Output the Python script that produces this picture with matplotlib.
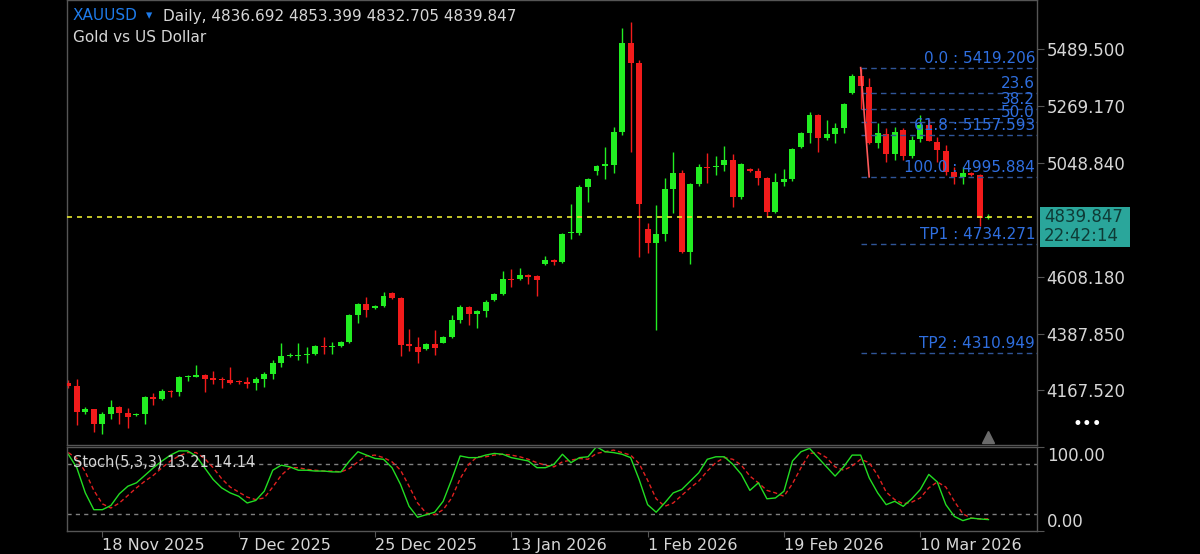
import matplotlib
matplotlib.use("Agg")
import matplotlib.pyplot as plt
import matplotlib.transforms as mtransforms
from matplotlib.patches import Rectangle
import numpy as np

# ---------------- data ----------------
OPEN = [4197, 4185, 4084, 4096, 4038, 4076, 4104, 4080, 4072, 4076,
        4142, 4134, 4165, 4161, 4220, 4220, 4228, 4216, 4212, 4208,
        4204, 4200, 4196, 4212, 4231, 4274, 4301, 4301, 4305, 4309,
        4340, 4336, 4340, 4355, 4460, 4503, 4487, 4495, 4545, 4526,
        4348, 4336, 4328, 4348, 4352, 4375, 4441, 4491, 4464, 4476,
        4518, 4542, 4600, 4600, 4615, 4611, 4658, 4673, 4666, 4778,
        4778, 4956, 5018, 5038, 5042, 5170, 5515, 5437, 4794, 4739,
        4774, 4949, 5011, 4704, 4968, 5034, 5034, 5042, 5061, 4918,
        5026, 5018, 4991, 4859, 4976, 4987, 5111, 5166, 5236, 5146,
        5162, 5185, 5321, 5387, 5344, 5127, 5162, 5084, 5177, 5077,
        5142, 5197, 5131, 5096, 5015, 4995, 5011, 5003, 4836.692]
CLOSE = [4185, 4084, 4096, 4038, 4076, 4104, 4080, 4065, 4076, 4142,
         4134, 4165, 4161, 4220, 4224, 4228, 4212, 4208, 4208, 4196,
         4200, 4193, 4212, 4231, 4274, 4301, 4305, 4305, 4309, 4340,
         4336, 4340, 4355, 4460, 4503, 4480, 4495, 4534, 4526, 4344,
         4340, 4317, 4348, 4332, 4375, 4441, 4491, 4464, 4476, 4511,
         4542, 4600, 4596, 4615, 4608, 4596, 4673, 4666, 4774, 4782,
         4956, 4987, 5038, 5046, 5170, 5515, 5437, 4890, 4739, 4774,
         4949, 5011, 4704, 4968, 5034, 5030, 5038, 5061, 4918, 5046,
         5018, 4991, 4859, 4976, 4987, 5104, 5166, 5236, 5146, 5162,
         5185, 5278, 5387, 5348, 5127, 5166, 5084, 5170, 5077, 5139,
         5197, 5135, 5100, 5015, 4995, 5011, 5003, 4837, 4839.847]
HIGH = [4208, 4212, 4104, 4096, 4084, 4131, 4108, 4100, 4080, 4146,
        4158, 4173, 4169, 4224, 4228, 4266, 4232, 4243, 4220, 4259,
        4208, 4220, 4220, 4239, 4286, 4352, 4313, 4352, 4336, 4344,
        4375, 4355, 4359, 4464, 4507, 4530, 4499, 4549, 4549, 4530,
        4406, 4375, 4352, 4402, 4379, 4460, 4499, 4495, 4480, 4518,
        4545, 4631, 4639, 4642, 4619, 4615, 4689, 4677, 4778, 4891,
        4964, 4991, 5042, 5111, 5189, 5573, 5596, 5449, 4817, 4887,
        4991, 5092, 5022, 4972, 5046, 5088, 5077, 5115, 5084, 5050,
        5030, 5030, 4995, 5011, 5026, 5108, 5170, 5247, 5240, 5216,
        5204, 5282, 5395, 5419.206, 5379, 5204, 5185, 5189, 5185, 5154,
        5235, 5220, 5150, 5119, 5034, 5034, 5015, 5007, 4853.399]
LOW = [4177, 4034, 4076, 4007, 3999, 4057, 4038, 4022, 4068, 4038,
       4111, 4131, 4142, 4146, 4204, 4220, 4161, 4193, 4177, 4193,
       4193, 4177, 4169, 4181, 4212, 4259, 4297, 4286, 4274, 4305,
       4309, 4309, 4336, 4352, 4429, 4452, 4484, 4491, 4522, 4301,
       4321, 4274, 4324, 4305, 4352, 4371, 4429, 4421, 4410, 4452,
       4514, 4538, 4569, 4596, 4580, 4534, 4654, 4654, 4662, 4755,
       4770, 4898, 5003, 4987, 5011, 5158, 5092, 4685, 4700, 4402,
       4747, 4856, 4700, 4658, 4960, 4972, 5003, 5018, 4879, 4910,
       5015, 4964, 4840, 4856, 4960, 4980, 5108, 5127, 5092, 5139,
       5127, 5166, 5317, 5259, 5123, 5108, 5053, 5061, 5061, 5069,
       5131, 5135, 5053, 5003, 4968, 4968, 4999, 4805, 4832.705]

STOCH_K = [91, 75, 45, 25, 25, 30, 44, 53, 57, 66,
           75, 83, 90, 95, 95, 89, 75, 61, 51, 45,
           41, 33, 36, 47, 72, 78, 76, 72, 72, 71,
           71, 70, 70, 83, 94, 90, 86, 85, 75, 55,
           29, 16, 19, 22, 35, 61, 89, 87, 87, 90,
           92, 91, 87, 85, 83, 75, 75, 79, 91, 81,
           87, 88, 100, 94, 93, 91, 87, 61, 31, 22,
           33, 45, 49, 59, 69, 85, 88, 88, 79, 67,
           48, 57, 38, 39, 47, 83, 94, 98, 87, 76,
           65, 76, 90, 90, 63, 45, 31, 35, 29, 38,
           49, 67, 58, 31, 17, 12, 15, 14, 13.21]
STOCH_D = [93, 86, 70, 48, 32, 27, 33, 42, 51, 59,
           66, 75, 83, 89, 93, 93, 86, 75, 62, 52,
           46, 40, 37, 39, 52, 66, 75, 75, 73, 72,
           71, 71, 70, 74, 82, 89, 90, 87, 82, 72,
           53, 33, 21, 19, 25, 39, 62, 79, 88, 88,
           90, 91, 90, 88, 85, 81, 78, 76, 82, 84,
           86, 85, 92, 94, 96, 93, 90, 80, 60, 38,
           29, 33, 42, 51, 59, 71, 81, 87, 85, 78,
           65, 57, 48, 45, 41, 56, 75, 92, 93, 87,
           76, 72, 77, 85, 81, 66, 46, 37, 32, 34,
           39, 51, 58, 52, 35, 20, 15, 14, 14.14]

DATE_POS = [4, 20, 36, 52, 68, 84, 100]
DATE_LABELS = ["18 Nov 2025", "7 Dec 2025", "25 Dec 2025", "13 Jan 2026",
               "1 Feb 2026", "19 Feb 2026", "10 Mar 2026"]
PRICE_TICKS = [5489.500, 5269.170, 5048.840, 4608.180, 4387.850, 4167.520]

FIB_HIGH = 5419.206
FIB_LOW = 4995.884
FIB_LABELS = ["0.0 : 5419.206", "23.6", "38.2", "50.0", "61.8 : 5157.593", "100.0 : 4995.884"]
FIB_RATIOS = [0.0, 0.236, 0.382, 0.5, 0.618, 1.0]
TP_VALUES = [4734.271, 4310.949]
TP_LABELS = ["TP1 : 4734.271", "TP2 : 4310.949"]
FIB_START = 93
FIB_END = 94

SYMBOL = "XAUUSD"
HEADER = "Daily, 4836.692 4853.399 4832.705 4839.847"
SUBTITLE = "Gold vs US Dollar"
STOCH_TITLE = "Stoch(5,3,3) 13.21 14.14"
TIMER = "22:42:14"

# ---------------- styling ----------------
W, H = 1200, 554
BG = "black"
UP = "#22EE22"
DN = "#F21B1B"
GRID = "#555555"
TXT = "#D6D6D6"
BLUE = "#2F6FE0"
FIBLINE = "#2F5597"

plt.rcParams['font.family'] = ['DejaVu Sans']

fig = plt.figure(figsize=(W / 100, H / 100), dpi=100, facecolor=BG)

def fx(px):
    return px / W

def fy(py):
    return 1 - py / H

ax = fig.add_axes([fx(67), fy(445), fx(1037) - fx(67), fy(0) - fy(445)])
ax2 = fig.add_axes([fx(67), fy(530.7), fx(1037) - fx(67), fy(446.7) - fy(530.7)])

o = np.array(OPEN, float)
c = np.array(CLOSE, float)
h = np.array(HIGH, float)
l = np.array(LOW, float)
x = np.arange(len(o))
up = c >= o
cols = np.where(up, UP, DN)

for a in (ax, ax2):
    a.set_facecolor(BG)
    for s in a.spines.values():
        s.set_color(GRID)
        s.set_linewidth(1)

ax.set_xlim(-0.15, 113.7)
ax.set_ylim(3956.2, 5681.4)

# candles
ax.vlines(x, l, h, colors=cols, linewidth=1.0, zorder=2)
body = np.maximum(np.abs(c - o), 4.0)
ax.bar(x, body, bottom=np.minimum(o, c), width=0.7, color=cols, linewidth=0, zorder=3)

# current price line
last = c[-1]
ax.axhline(last, color="#E6E62E", linewidth=1.2, dashes=(3, 3), zorder=4)

# fibonacci
blend = mtransforms.blended_transform_factory(ax.transAxes, ax.transData)
rng = FIB_HIGH - FIB_LOW
for r, lab in zip(FIB_RATIOS, FIB_LABELS):
    lvl = FIB_HIGH - r * rng
    ax.hlines(lvl, FIB_START, 113.7, colors=FIBLINE, linewidth=1.0, linestyles=(0, (4, 3)), zorder=4)
    ax.text(0.998, lvl + 8, lab, transform=blend, ha="right", va="bottom",
            color=BLUE, fontsize=11, zorder=6)
for v, lab in zip(TP_VALUES, TP_LABELS):
    ax.hlines(v, FIB_START, 113.7, colors=FIBLINE, linewidth=1.0, linestyles=(0, (4, 3)), zorder=4)
    ax.text(0.998, v + 8, lab, transform=blend, ha="right", va="bottom",
            color=BLUE, fontsize=11, zorder=6)
ax.plot([FIB_START, FIB_END], [FIB_HIGH, FIB_LOW], color="#FF5A5A", linewidth=1.2, zorder=5)

# axis ticks on the right
ax.yaxis.tick_right()
ax.set_yticks(PRICE_TICKS)
ax.set_yticklabels([f"{v:.3f}" for v in PRICE_TICKS])
ax.tick_params(axis="y", colors=GRID, labelcolor=TXT, length=5, pad=2, labelsize=12)
ax.set_xticks([])

# small triangle marker at the bottom
tri = mtransforms.blended_transform_factory(ax.transData, ax.transAxes)
ax.plot([len(o) - 1], [0.018], marker="^", color="#6A6A6A", markersize=9,
        transform=tri, clip_on=False, zorder=6)

# price box
fig.add_artist(Rectangle((fx(1040), fy(247)), fx(1130) - fx(1040), fy(207) - fy(247),
                         transform=fig.transFigure, facecolor="#2AA69B", edgecolor="none"))
fig.text(fx(1044), fy(217), f"{last:.3f}", color="#0E3B36", fontsize=12, va="center", ha="left")
fig.text(fx(1044), fy(236), TIMER, color="#0E3B36", fontsize=12, va="center", ha="left")

# dots
fig.text(fx(1087), fy(424), "\u2022\u2022\u2022", color="white", fontsize=12, ha="center", va="center")

# headers
fig.text(fx(73), fy(16), SYMBOL, color="#1E7BEA", fontsize=11, va="center", ha="left")
fig.text(fx(146), fy(16), "\u25BE", color="#1E7BEA", fontsize=9, va="center", ha="left")
fig.text(fx(163), fy(16), HEADER, color=TXT, fontsize=11, va="center", ha="left")
fig.text(fx(73), fy(37), SUBTITLE, color=TXT, fontsize=11, va="center", ha="left")

# stochastic panel
ax2.set_xlim(-0.15, 113.7)
ax2.set_ylim(0, 100)
ax2.axhline(80, color="#808080", linewidth=1.0, dashes=(3, 3))
ax2.axhline(20, color="#808080", linewidth=1.0, dashes=(3, 3))
ax2.plot(x, STOCH_D, color="#E02020", linewidth=1.0, dashes=(3, 2))
ax2.plot(x, STOCH_K, color="#22DD22", linewidth=1.0)
ax2.text(0.006, 0.82, STOCH_TITLE, transform=ax2.transAxes, color=TXT, fontsize=10.5,
         va="center", ha="left")
ax2.yaxis.tick_right()
ax2.set_yticks([100, 0])
ax2.set_yticklabels(["100.00", "0.00"])
ylabs = ax2.get_yticklabels()
ylabs[0].set_va("top")
ylabs[1].set_va("bottom")
ax2.tick_params(axis="y", colors=GRID, labelcolor=TXT, length=5, pad=2, labelsize=12)
ax2.set_xticks(DATE_POS)
ax2.set_xticklabels(DATE_LABELS, ha="left")
ax2.tick_params(axis="x", colors=GRID, labelcolor=TXT, length=4, pad=1, labelsize=11.5)

fig.savefig("out.png", dpi=100, facecolor=BG)
